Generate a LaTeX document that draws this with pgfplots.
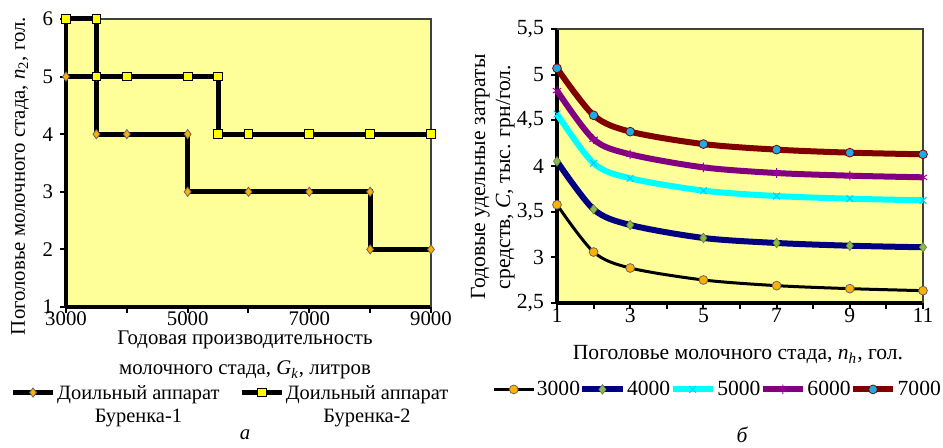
\documentclass[border=0pt]{standalone}
\usepackage{fontspec}
\setmainfont{Liberation Serif}
\usepackage{pgfplots}
\pgfplotsset{compat=1.18}

\definecolor{bgyel}{HTML}{FFFF99}
\definecolor{mkor}{HTML}{FFB000}
\definecolor{mkyel}{HTML}{FFFF00}
\definecolor{mkgr}{HTML}{8DB84E}
\definecolor{mkbl}{HTML}{1CACE4}
\definecolor{ln4}{HTML}{000080}
\definecolor{ln5}{HTML}{00FFFF}
\definecolor{ln6}{HTML}{800080}
\definecolor{ln7}{HTML}{800000}
\definecolor{frm}{HTML}{404040}

\newcommand{\fs}{\fontsize{10.8}{11.7}\selectfont}
\newcommand{\fsl}{\fontsize{10.4}{11.7}\selectfont}
\newcommand{\fsg}{\fontsize{10.2}{11.7}\selectfont}

\pgfplotsset{
  common/.style={
    scale only axis, clip=false,
    axis lines*=left,
    axis line style={black, line width=2pt},
    axis background/.style={fill=bgyel},
    tick align=outside,
    major tick length=3pt,
    tick style={black, line width=1pt},
    xticklabel style={yshift=4pt},
    /pgf/number format/assume math mode=true,
    legend style={draw=none, fill=none, inner sep=0pt,
      nodes={inner xsep=0.8pt, inner ysep=1pt}},
    legend image code/.code={\draw[mark repeat=2,mark phase=2,##1]
      plot coordinates {(0pt,0pt) (10pt,0pt) (20pt,0pt)};},
  }
}

\begin{document}
\begin{tikzpicture}
\useasboundingbox (0,0) rectangle (471.5pt,224pt);

% --- а ---
\begin{axis}[common,
  at={(33pt,70.5pt)}, anchor=south west,
  width=182.5pt, height=144pt,
  ticklabel style={font=\fsl},
  xmin=3000, xmax=9000, ymin=1, ymax=6,
  xtick={3000,4000,...,9000},
  xticklabels={3000,,5000,,7000,,9000},
  ytick={1,...,6},
  legend columns=2,
  legend style={font=\fsg, at={(axis description cs:-0.153,-0.255)}, anchor=north west,
    /tikz/every even column/.append style={column sep=9pt}},
]
\draw[frm, line width=0.6pt] (rel axis cs:0,1) -- (rel axis cs:1,1) -- (rel axis cs:1,0);
\addplot[black, line width=2.5pt, mark=diamond*,
  mark options={fill=mkor, draw=black!60, line width=0.4pt, mark size=2.3pt}]
  coordinates {(3000,5) (3500,5) (3500,4) (4000,4) (5000,4) (5000,3)
               (6000,3) (7000,3) (8000,3) (8000,2) (9000,2)};
\addlegendentry{\begin{tabular}[t]{@{}c@{}}Доильный аппарат\\Буренка-1\end{tabular}}
\addplot[black, line width=2.5pt, mark=square*,
  mark options={fill=mkyel, draw=black, line width=0.5pt, mark size=2.2pt}]
  coordinates {(3000,6) (3500,6) (3500,5) (4000,5) (5000,5) (5500,5)
               (5500,4) (6000,4) (7000,4) (8000,4) (9000,4)};
\addlegendentry{\begin{tabular}[t]{@{}c@{}}Доильный аппарат\\Буренка-2\end{tabular}}
\end{axis}

% --- б ---
\begin{axis}[common,
  at={(278.5pt,72.5pt)}, anchor=south west,
  width=183pt, height=137pt,
  ticklabel style={font=\fs},
  xmin=1, xmax=11, ymin=2.5, ymax=5.5,
  xtick={1,...,11},
  xticklabels={1,,3,,5,,7,,9,,11},
  ytick={2.5,3,...,5.5},
  yticklabel style={/pgf/number format/use comma},
  legend columns=5,
  legend style={font=\fs, at={(axis description cs:-0.178,-0.275)}, anchor=north west,
    /tikz/every even column/.append style={column sep=-1.1pt}},
]
\draw[frm, line width=0.6pt] (rel axis cs:0,1) -- (rel axis cs:1,1) -- (rel axis cs:1,0);
\addplot[black, line width=1.5pt, smooth, mark=*,
  mark options={fill=mkor, draw=black!60, line width=0.4pt, mark size=2.2pt}]
  coordinates {(1,3.576) (2,3.058) (3,2.883) (5,2.752) (7,2.690) (9,2.657) (11,2.635)};
\addlegendentry{3000}
\addplot[ln4, line width=3pt, smooth, mark=diamond*,
  mark options={fill=mkgr, draw=mkgr!70!black, line width=0.3pt, mark size=2.4pt}]
  coordinates {(1,4.051) (2,3.526) (3,3.354) (5,3.212) (7,3.157) (9,3.127) (11,3.110)};
\addlegendentry{4000}
\addplot[ln5, line width=3pt, smooth, mark=x,
  mark options={ln5!80!blue, line width=0.5pt, mark size=2.4pt}]
  coordinates {(1,4.569) (2,4.030) (3,3.865) (5,3.730) (7,3.671) (9,3.642) (11,3.624)};
\addlegendentry{5000}
\addplot[ln6, line width=3pt, smooth, mark=asterisk,
  mark options={ln6!80!magenta, line width=0.5pt, mark size=2.4pt}]
  coordinates {(1,4.825) (2,4.292) (3,4.128) (5,3.985) (7,3.923) (9,3.894) (11,3.876)};
\addlegendentry{6000}
\addplot[ln7, line width=3pt, smooth, mark=*,
  mark options={fill=mkbl, draw=ln7, line width=0.4pt, mark size=2.2pt}]
  coordinates {(1,5.070) (2,4.555) (3,4.376) (5,4.240) (7,4.179) (9,4.146) (11,4.128)};
\addlegendentry{7000}
\end{axis}

% labels
\node[rotate=90, anchor=base, font=\fsl] at (12.5pt,136pt)
  {Поголовье молочного стада, \textit{n}\textsubscript{2}, гол.};
\node[anchor=base, font=\fsl] at (122.5pt,51.5pt) {Годовая производительность};
\node[anchor=base, font=\fsl] at (122.5pt,36.5pt)
  {молочного стада, \textit{G}\textsubscript{\textit{k}}, литров};
\node[anchor=base, font=\fsl\itshape] at (122.5pt,4pt) {а};

\node[rotate=90, anchor=base, font=\fs] at (242.5pt,135.5pt) {Годовые удельные затраты};
\node[rotate=90, anchor=base, font=\fs] at (255pt,135.5pt)
  {средств, \textit{C}, тыс. грн/гол.};
\node[anchor=base, font=\fs] at (369pt,44pt)
  {Поголовье молочного стада, \textit{n}\textsubscript{\textit{h}}, гол.};
\node[anchor=base, font=\fs\itshape] at (371pt,2.5pt) {б};
\end{tikzpicture}
\end{document}
